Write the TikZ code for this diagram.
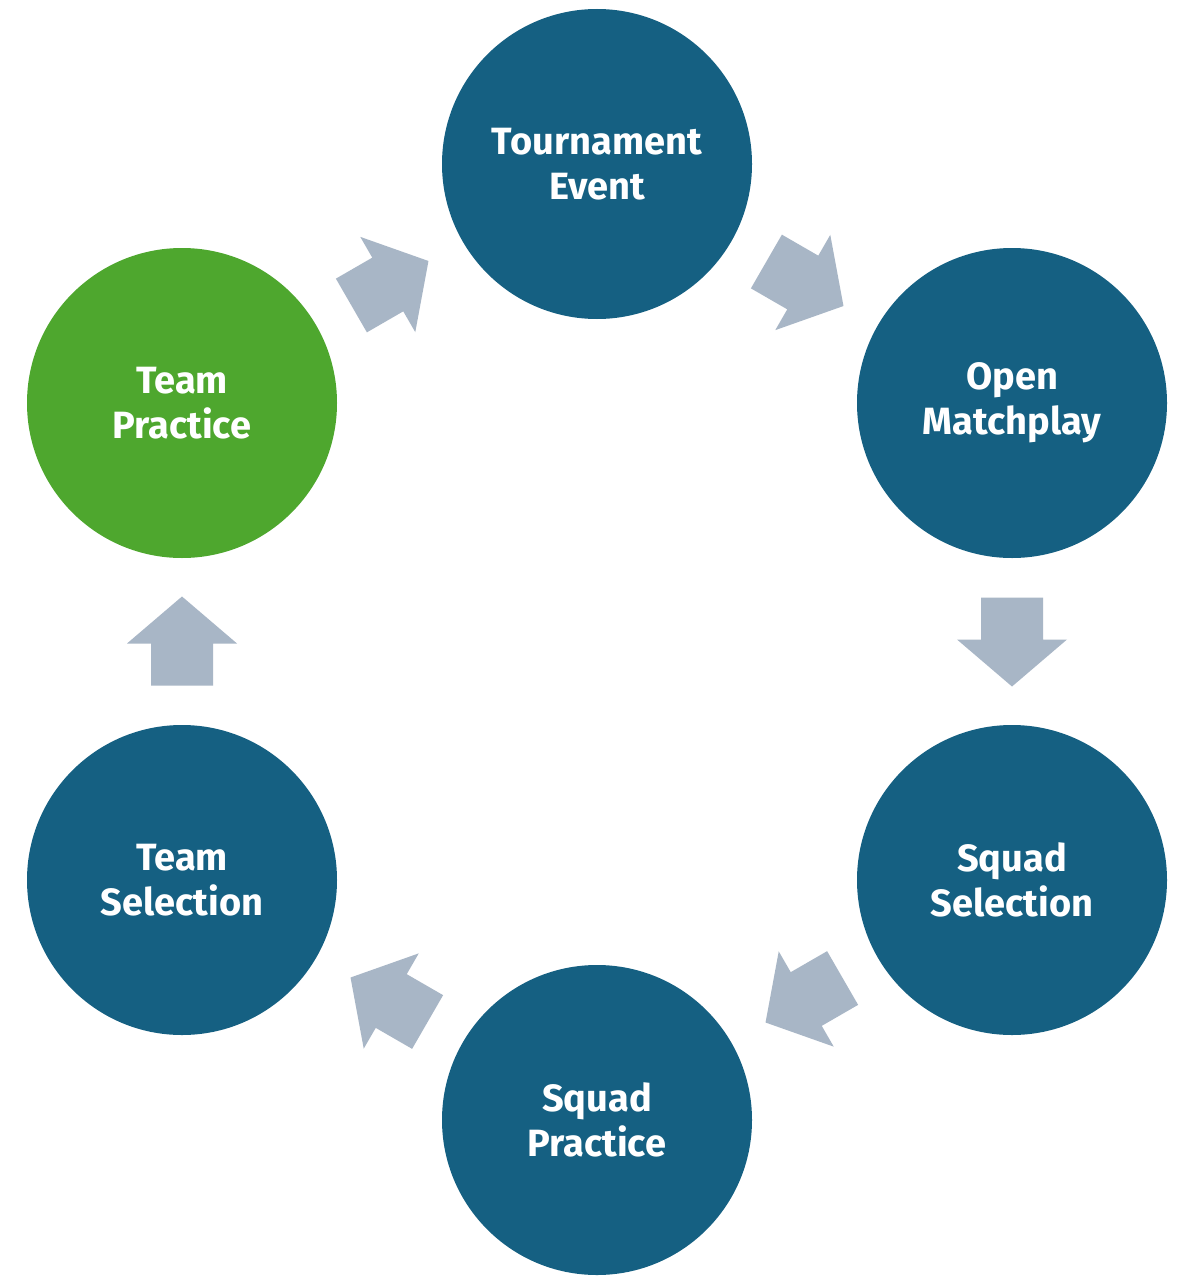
\documentclass[tikz,border=0pt]{standalone}
\usepackage{fontspec}
\setmainfont{Fira Sans}
\usetikzlibrary{calc}
\definecolor{stageblue}{HTML}{156082}
\definecolor{stagegreen}{HTML}{4EA72E}
\definecolor{arrowgrey}{HTML}{A8B6C6}
\begin{document}
\begin{tikzpicture}[x=0.75pt,y=0.75pt,
  stage/.style={circle,fill=stageblue,minimum size=232.5pt,inner sep=0pt,
    text=white,align=center,font=\fontsize{28.5}{34}\selectfont\bfseries},
  greenstage/.style={stage,fill=stagegreen},
  blockarrow/.pic={\fill[arrowgrey] (-44,-31) -- (-2,-31) -- (-2,-55) -- (45,0) -- (-2,55) -- (-2,31) -- (-44,31) -- cycle;}]
\useasboundingbox[fill=white] (0,0) rectangle (1188,-1281);
\node[stage] (tour) at (597,-164) {Tournament\\Event};
\node[stage] (open) at (1012,-403) {Open\\Matchplay};
\node[stage] (ssel) at (1012,-880) {Squad\\Selection};
\node[stage] (sprac) at (597,-1120) {Squad\\Practice};
\node[stage] (tsel) at (182,-880) {Team\\Selection};
\node[greenstage] (tprac) at (182,-403) {Team\\Practice};
\path ($(tour)!0.5!(open)$) pic[rotate=-30] {blockarrow};
\path ($(open)!0.5!(ssel)$) pic[rotate=-90] {blockarrow};
\path ($(ssel)!0.5!(sprac)$) pic[rotate=210] {blockarrow};
\path ($(sprac)!0.5!(tsel)$) pic[rotate=150] {blockarrow};
\path ($(tsel)!0.5!(tprac)$) pic[rotate=90] {blockarrow};
\path ($(tprac)!0.5!(tour)$) pic[rotate=30] {blockarrow};
\end{tikzpicture}
\end{document}
